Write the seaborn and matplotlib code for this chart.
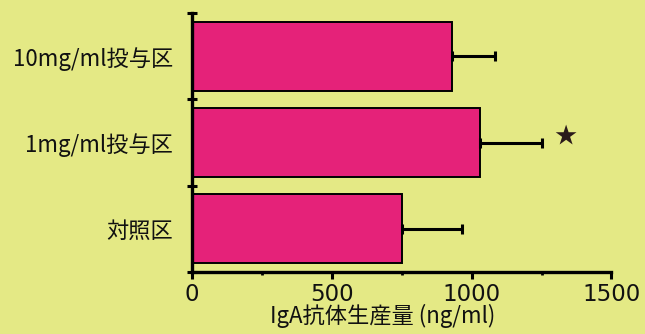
import numpy as np
import pandas as pd
import matplotlib
matplotlib.use("Agg")
import matplotlib.pyplot as plt
import seaborn as sns

# Data
groups = ["10mg/ml投与区", "1mg/ml投与区", "対照区"]
iga_mean = [930, 1030, 750]
iga_sd = [155, 223, 217]
significant = [False, True, False]

BG = "#E4E985"
BAR = "#E52279"

sns.set_theme(style="white")
plt.rcParams["font.family"] = ["Noto Sans CJK JP", "DejaVu Sans"]

df = pd.DataFrame({"group": groups, "iga": iga_mean})

fig = plt.figure(figsize=(6.45, 3.34), dpi=100, facecolor=BG)
ax = fig.add_axes([0.298, 0.1865, 0.65, 0.7735])
ax.set_facecolor(BG)

sns.barplot(data=df, y="group", x="iga", order=groups, color=BAR,
            saturation=1, width=0.8, edgecolor="black", linewidth=1.4, ax=ax)

ypos = np.arange(len(groups))
ax.errorbar(iga_mean, ypos, xerr=[np.zeros(len(groups)), iga_sd], fmt="none",
            ecolor="black", elinewidth=2.2, capsize=3.5, capthick=2.2, zorder=5)

for i, (m, s, sig) in enumerate(zip(iga_mean, iga_sd, significant)):
    if sig:
        ax.text(1333, i - 0.07, "★", ha="center", va="center", fontsize=16,
                color="#2A1A1A")

ax.set_xlim(0, 1500)
ax.set_ylim(2.5, -0.5)
ax.set_xticks([0, 500, 1000, 1500])
ax.set_xticks([250, 750, 1250], minor=True)
ax.set_yticks(ypos)
ax.set_yticklabels(groups)
ax.set_yticks([-0.5, 0.5, 1.5, 2.5], minor=True)

ax.tick_params(axis="x", which="major", direction="out", length=5, width=2.2,
               color="black", labelsize=16.5, pad=3, bottom=True)
ax.tick_params(axis="x", which="minor", direction="out", length=2.5, width=2,
               color="black", bottom=True)
ax.tick_params(axis="y", which="major", length=0, labelsize=16, pad=14,
               left=True)
ax.tick_params(axis="y", which="minor", direction="inout", length=7, width=2.2,
               color="black", left=True)

for lab in ax.get_xticklabels():
    lab.set_family(["DejaVu Sans"])
for lab in ax.get_xticklabels() + ax.get_yticklabels():
    lab.set_color("#111111")

for side in ["top", "right"]:
    ax.spines[side].set_visible(False)
for side in ["left", "bottom"]:
    ax.spines[side].set_color("black")
    ax.spines[side].set_linewidth(2.4)

ax.set_ylabel("")
ax.set_xlabel("IgA抗体生産量 (ng/ml)", fontsize=16, color="#111111")
ax.xaxis.set_label_coords(0.455, -0.125)

fig.savefig("out.png", dpi=100, facecolor=BG)
